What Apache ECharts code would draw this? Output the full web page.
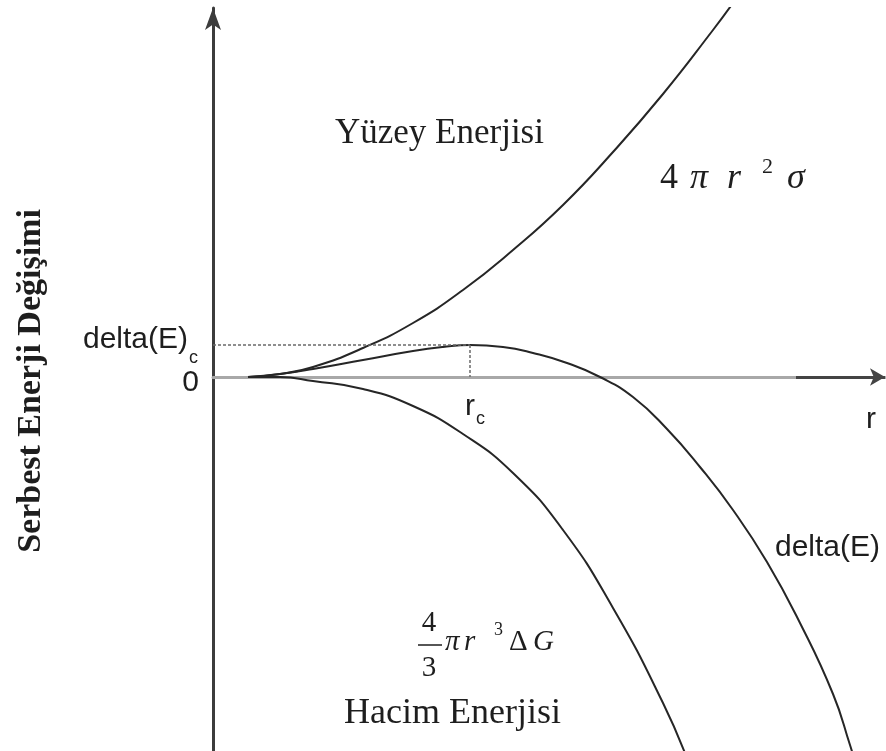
<!DOCTYPE html>
<html>
<head>
<meta charset="utf-8">
<script src="https://cdn.jsdelivr.net/npm/echarts@6/dist/echarts.min.js"></script>
<style>
  html, body { margin: 0; padding: 0; background: #ffffff; }
  #chart { width: 886px; height: 751px; }
</style>
</head>
<body>
<div id="chart"></div>
<script>
// Free energy of nucleus formation versus radius r:
// surface term (positive), volume term (negative) and their sum delta(E).
const rSurface = [0.35, 0.67, 1.00, 1.50, 2.00, 2.50, 3.00, 3.50, 4.00, 4.50, 5.00, 5.20];
const eSurface = [0.00, 0.03, 0.10, 0.29, 0.54, 0.87, 1.27, 1.72, 2.25, 2.83, 3.47, 3.74];

const rVolume = [0.35, 0.67, 1.00, 1.50, 2.00, 2.50, 3.00, 3.50, 4.00, 4.50, 4.75];
const eVolume = [0.00, 0.00, -0.04, -0.12, -0.29, -0.57, -0.96, -1.53, -2.31, -3.26, -3.84];

const rDelta = [0.35, 0.67, 1.00, 1.50, 2.00, 2.30, 2.57, 2.90, 3.20, 3.54, 3.87, 4.20, 4.54, 4.87, 5.20, 5.54, 5.87, 6.20, 6.37, 6.42];
const eDelta = [0.00, 0.03, 0.08, 0.17, 0.26, 0.30, 0.32, 0.30, 0.24, 0.14, 0.00, -0.20, -0.52, -0.90, -1.33, -1.85, -2.46, -3.17, -3.68, -3.85];

// critical radius and the barrier height at the maximum of delta(E)
const rCritical = 2.57;
const eCritical = 0.32;

// horizontal axis range; the last stretch of it is drawn darker, ending in the arrow
const rMax = 6.72;
const rArrowStart = 5.83;

const chart = echarts.init(document.getElementById('chart'), null, { renderer: 'canvas' });

const pairs = (xs, ys) => xs.map((x, i) => [x, ys[i]]);
const curveLine = { color: '#262626', width: 2 };

const serif = '"Liberation Serif", "Times New Roman", serif';
const sans = '"Liberation Sans", Arial, sans-serif';
const ink = '#1e1e1e';

chart.setOption({
  animation: false,
  grid: { left: 213, right: 1, top: 8, bottom: 0 },
  xAxis: {
    type: 'value', min: 0, max: rMax,
    axisLine: { onZero: true, lineStyle: { color: '#a8a8a8', width: 3 } },
    axisTick: { show: false }, axisLabel: { show: false }, splitLine: { show: false }
  },
  yAxis: {
    type: 'value', min: -3.74, max: 3.69,
    axisLine: {
      symbol: ['none', 'arrow'], symbolSize: [12, 22],
      lineStyle: { color: '#3c3c3c', width: 3 }
    },
    axisTick: { show: false }, axisLabel: { show: false }, splitLine: { show: false }
  },
  series: [
    {
      name: 'Yüzey Enerjisi', type: 'line', smooth: 0.5, showSymbol: false,
      lineStyle: curveLine, data: pairs(rSurface, eSurface)
    },
    {
      name: 'Hacim Enerjisi', type: 'line', smooth: 0.5, showSymbol: false,
      lineStyle: curveLine, data: pairs(rVolume, eVolume)
    },
    {
      name: 'delta(E)', type: 'line', smooth: 0.5, showSymbol: false,
      lineStyle: curveLine, data: pairs(rDelta, eDelta),
      markLine: {
        silent: true, symbol: 'none', label: { show: false },
        lineStyle: { color: '#6a6a6a', width: 1.5, type: [3, 2] },
        data: [
          [{ coord: [0, eCritical] }, { coord: [rCritical, eCritical] }],
          [{ coord: [rCritical, eCritical] }, { coord: [rCritical, 0] }],
          [
            { coord: [rArrowStart, 0], symbol: 'none',
              lineStyle: { color: '#444444', width: 3, type: 'solid' } },
            { coord: [rMax, 0], symbol: 'arrow', symbolSize: [13, 15],
              lineStyle: { color: '#444444', width: 3, type: 'solid' } }
          ]
        ]
      }
    }
  ]
});

// annotation texts, anchored to data positions where they name a value
const px = (x, y) => chart.convertToPixel({ gridIndex: 0 }, [x, y]);
const p0 = px(0, 0);
const pc = px(0, eCritical);
const pr = px(rCritical, 0);
const pEnd = px(rMax, 0);

function txt(x, y, text, font, align, vAlign, extra) {
  return Object.assign({
    type: 'text', x: x, y: y, silent: true,
    style: {
      text: text, font: font, fill: ink,
      textAlign: align, align: align,
      textVerticalAlign: vAlign, verticalAlign: vAlign
    }
  }, extra || {});
}

chart.setOption({
  graphic: [
    // axis title
    txt(31, 381, 'Serbest Enerji Değişimi', 'bold 34px ' + serif, 'center', 'middle', { rotation: Math.PI / 2 }),
    // value marks on the axes
    txt(p0[0] - 14, p0[1] + 6, '0', '30px ' + sans, 'right', 'middle'),
    txt(pc[0] - 25, pc[1] - 5, 'delta(E)', '30px ' + sans, 'right', 'middle'),
    txt(pc[0] - 24, pc[1] + 13, 'c', '18px ' + sans, 'left', 'middle'),
    txt(pr[0] - 5, pr[1] + 30, 'r', '30px ' + sans, 'left', 'middle'),
    txt(pr[0] + 6, pr[1] + 42, 'c', '18px ' + sans, 'left', 'middle'),
    txt(pEnd[0] - 19, pEnd[1] + 43, 'r', '30px ' + sans, 'left', 'middle'),
    txt(880, 548, 'delta(E)', '30px ' + sans, 'right', 'middle'),
    // surface energy term
    txt(335, 134, 'Yüzey Enerjisi', '35px ' + serif, 'left', 'middle'),
    txt(660, 179, '4', '36px ' + serif, 'left', 'middle'),
    txt(690, 179, 'π', 'italic 36px ' + serif, 'left', 'middle'),
    txt(727, 179, 'r', 'italic 36px ' + serif, 'left', 'middle'),
    txt(762, 167, '2', '22px ' + serif, 'left', 'middle'),
    txt(787, 179, 'σ', 'italic 36px ' + serif, 'left', 'middle'),
    // volume energy term
    txt(429, 623, '4', '29px ' + serif, 'center', 'middle'),
    {
      type: 'line', silent: true,
      shape: { x1: 418, y1: 645, x2: 442, y2: 645 },
      style: { stroke: ink, lineWidth: 1.5 }
    },
    txt(429, 668, '3', '29px ' + serif, 'center', 'middle'),
    txt(445, 642, 'π', 'italic 29px ' + serif, 'left', 'middle'),
    txt(464, 642, 'r', 'italic 29px ' + serif, 'left', 'middle'),
    txt(494, 630, '3', '18px ' + serif, 'left', 'middle'),
    txt(509, 642, 'Δ', '29px ' + serif, 'left', 'middle'),
    txt(533, 642, 'G', 'italic 29px ' + serif, 'left', 'middle'),
    txt(344, 714, 'Hacim Enerjisi', '36px ' + serif, 'left', 'middle')
  ]
});
</script>
</body>
</html>
